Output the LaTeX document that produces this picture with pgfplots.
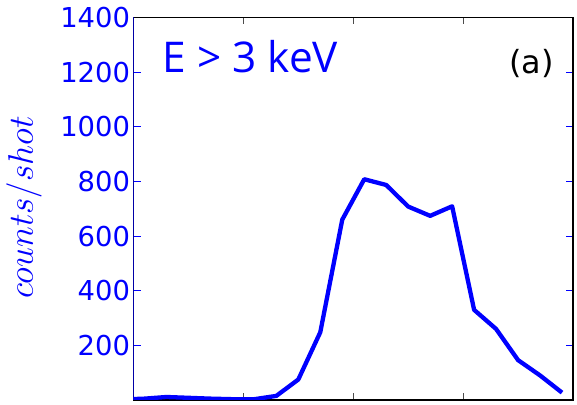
\documentclass[border=0pt]{standalone}
\usepackage{fontspec}
\setmainfont{DejaVu Sans}
\newfontfamily\titlefont{Open Sans}
\usepackage{graphicx}
\usepackage{pgfplots}
\pgfplotsset{compat=1.18}
\definecolor{mblue}{RGB}{0,0,255}
\begin{document}
\begin{tikzpicture}[x=1bp,y=1bp]
\begin{axis}[
  at={(133.5bp,5bp)}, anchor=south west,
  scale only axis, width=439.5bp, height=382.5bp,
  xmin=0, xmax=40, ymin=0, ymax=1400,
  xtick={10,20,30}, xticklabels={},
  ytick={200,400,...,1400},
  tick align=inside,
  major tick length=7bp,
  x tick style={black!70, line width=1bp},
  y tick style={mblue, line width=1bp},
  axis line style={black, line width=1.3bp},
  /pgf/number format/assume math mode=true,
  /pgf/number format/1000 sep={},
  yticklabel style={font=\fontsize{27.5}{27.5}\selectfont, color=mblue},
  ylabel={\scalebox{1.43}{$counts/shot$}},
  ylabel style={at={(axis description cs:-0.249,0.503)}, anchor=center, rotate=0, color=mblue, font=\fontsize{33}{33}\selectfont},
]
\addplot[mblue, line width=4.3bp, line join=round] coordinates {
 (-1,2) (1,5) (3,11) (5,8) (7,5) (9,3) (11,3) (13,15) (15,75) (17,248) (19,660)
 (21,808) (23,787) (25,708) (27,674) (29,709) (31,330) (33,260) (35,146)
 (37,90) (39,27)
};
\draw[mblue, line width=1.5bp] (rel axis cs:0,0) -- (rel axis cs:0,1);
\node[anchor=base west, inner sep=0, text=mblue, font=\titlefont\fontsize{42.5}{42.5}\selectfont] at (axis description cs:0.066,0.8575) {E > 3 keV};
\node[anchor=center, inner sep=0, text=black, font=\fontsize{32}{32}\selectfont] at (axis description cs:0.9056,0.8797) {(a)};
\end{axis}
\pgfresetboundingbox
\path[use as bounding box] (0,0) rectangle (577bp,405bp);
\end{tikzpicture}
\end{document}
